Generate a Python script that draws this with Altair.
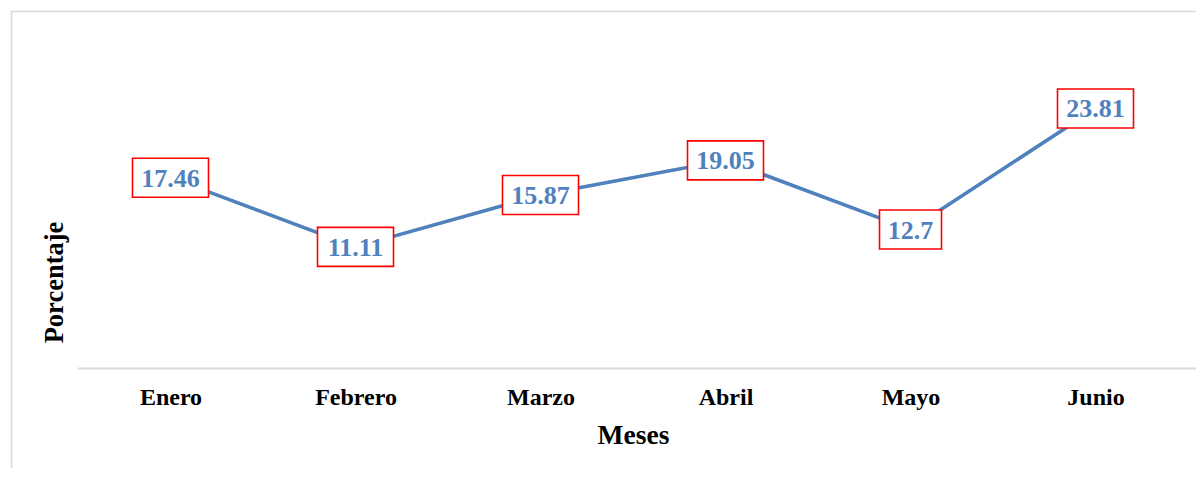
import altair as alt
import pandas as pd

meses = ["Enero", "Febrero", "Marzo", "Abril", "Mayo", "Junio"]
porcentaje = [17.46, 11.11, 15.87, 19.05, 12.7, 23.81]
etiquetas = ["17.46", "11.11", "15.87", "19.05", "12.7", "23.81"]

df = pd.DataFrame({"Mes": meses, "Porcentaje": porcentaje, "Etiqueta": etiquetas})

W, H = 1110, 327
BLUE = "#4F81BD"
FONT = "Liberation Serif"

x_enc = alt.X(
    "Mes:N",
    sort=meses,
    scale=alt.Scale(type="point", padding=0.5),
    axis=alt.Axis(
        title="Meses",
        labelAngle=0,
        labelFont=FONT,
        labelFontSize=24,
        labelFontWeight="bold",
        labelColor="black",
        labelBaseline="alphabetic",
        labelPadding=36,
        ticks=False,
        tickSize=0,
        domain=False,
        grid=False,
        titleFont=FONT,
        titleFontSize=27.5,
        titleFontWeight="bold",
        titleColor="black",
        titleBaseline="alphabetic",
        titleAlign="center",
        titleX=W / 2,
        titleY=75,
    ),
)
y_enc = alt.Y(
    "Porcentaje:Q",
    scale=alt.Scale(domain=[0, 30]),
    axis=alt.Axis(
        title="Porcentaje",
        labels=False,
        ticks=False,
        domain=False,
        grid=False,
        titleFont=FONT,
        titleFontSize=26.5,
        titleFontWeight="bold",
        titleColor="black",
        titleAngle=270,
        titleBaseline="alphabetic",
        titleAlign="center",
        titleX=-15.5,
        titleY=241,
    ),
)

base = alt.Chart(df)

line = base.mark_line(color=BLUE, strokeWidth=3.6).encode(x=x_enc, y=y_enc)

boxes = base.transform_calculate(
    w="6 + 14 * length(datum.Etiqueta)",
).transform_calculate(
    r="39 / datum.w",
    area="datum.w * datum.w",
).transform_calculate(
    path="'M-1,' + (-datum.r) + 'L1,' + (-datum.r) + 'L1,' + datum.r + 'L-1,' + datum.r + 'Z'"
).mark_point(
    filled=True, fill="white", stroke="#FF0000", strokeWidth=1.6, opacity=1
).encode(
    x=x_enc,
    y=y_enc,
    shape=alt.Shape("path:N", scale=None),
    size=alt.Size("area:Q", scale=None),
)

labels = base.mark_text(
    color=BLUE, font=FONT, fontWeight="bold", fontSize=26, baseline="middle", dy=1
).encode(x=x_enc, y=y_enc, text="Etiqueta:N")

deco = alt.Data(values=[{"k": 1}])
baseline = alt.Chart(deco).mark_rule(color="#D9D9D9", strokeWidth=2).encode(
    x=alt.value(0), x2=alt.value(1126), y=alt.value(H + 0.5)
)
frame_top = alt.Chart(deco).mark_rule(color="#D9D9D9", strokeWidth=1.6).encode(
    x=alt.value(-67), x2=alt.value(1126), y=alt.value(-29.5)
)
frame_left = alt.Chart(deco).mark_rule(color="#D9D9D9", strokeWidth=1.6).encode(
    x=alt.value(-66.5), y=alt.value(-30), y2=alt.value(436)
)

chart = alt.layer(frame_top, frame_left, baseline, line, boxes, labels).properties(
    width=W,
    height=H,
    autosize=alt.AutoSizeParams(type="none"),
    padding={"left": 70, "top": 33, "right": 8, "bottom": 100},
    background="white",
).configure_view(stroke=None)

chart.save("out.html", embed_options={"renderer": "svg", "actions": False})
